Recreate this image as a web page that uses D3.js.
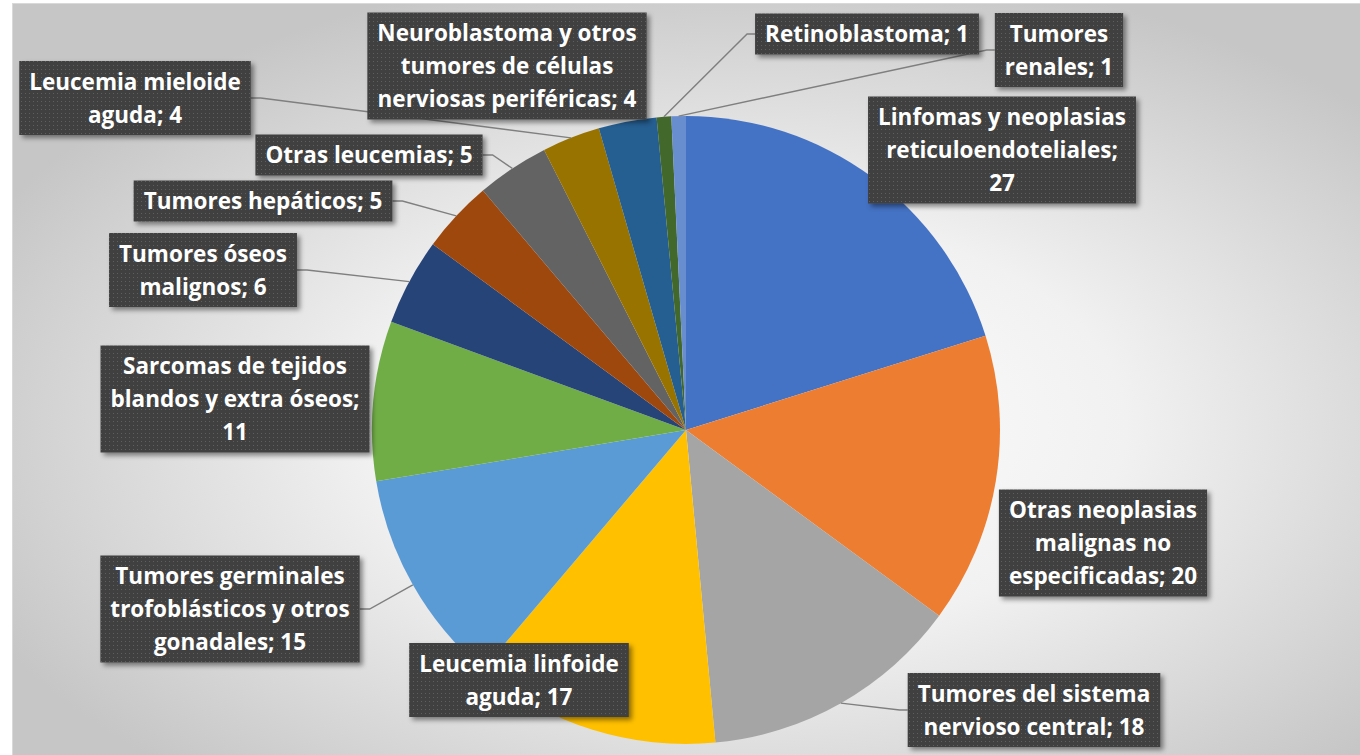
<!DOCTYPE html>
<html>
<head>
<meta charset="utf-8">
<script src="https://cdn.jsdelivr.net/npm/d3@7"></script>
<style>
  html,body{margin:0;padding:0;background:#fff;}
  svg{display:block;}
  .lbl{font-family:"Open Sans",Lato,sans-serif;font-weight:bold;fill:#fff;}
</style>
</head>
<body>
<div id="chart"></div>
<script>
// categories in slice order (clockwise from 12 o'clock)
var categories=[
  "Linfomas y neoplasias reticuloendoteliales",
  "Otras neoplasias malignas no especificadas",
  "Tumores del sistema nervioso central",
  "Leucemia linfoide aguda",
  "Tumores germinales trofoblásticos y otros gonadales",
  "Sarcomas de tejidos blandos y extra óseos",
  "Tumores óseos malignos",
  "Tumores hepáticos",
  "Otras leucemias",
  "Leucemia mieloide aguda",
  "Neuroblastoma y otros tumores de células nerviosas periféricas",
  "Retinoblastoma",
  "Tumores renales"
];
var values=[27,20,18,17,15,11,6,5,5,4,4,1,1];
var colors=["#4472C4","#ED7D31","#A5A5A5","#FFC000","#5B9BD5","#70AD47",
            "#264478","#9E480E","#636363","#997300","#255E91","#43682B","#698ED0"];

// label layout: box centre, words per line, leader shown
var labelPos=[[1002,150],[1103,543],[1034,710],[519,680],[230,609],[235,399],
              [203,270],[263,201],[369,155],[135,98],[507,66],[867,34],[1059,50]];
var lineWords=[[3,1,1],[2,2,2],[3,3],[2,2],[2,3,2],[3,4,1],[2,2],[3],[3],[2,2],[3,3,3],[2],[1,2]];
var showLeader=[false,false,true,false,true,false,true,true,true,true,false,true,true];

var W=1360,H=755, cx=686, cy=430, R=314;
var FS=22.5, LH=33, PADX=10, PADY=4;

var svg=d3.select("#chart").append("svg").attr("width",W).attr("height",H);
var defs=svg.append("defs");

var bg=defs.append("radialGradient").attr("id","bg").attr("cx","0.54").attr("cy","0.56").attr("r","0.62");
bg.append("stop").attr("offset","0").attr("stop-color","#ffffff");
bg.append("stop").attr("offset","0.45").attr("stop-color","#f1f1f1");
bg.append("stop").attr("offset","1").attr("stop-color","#c6c6c6");

var pat=defs.append("pattern").attr("id","dots").attr("width",4).attr("height",4).attr("patternUnits","userSpaceOnUse");
pat.append("rect").attr("width",4).attr("height",4).attr("fill","#404040");
pat.append("rect").attr("x",1).attr("y",1).attr("width",1).attr("height",1).attr("fill","#5e5e5e");

var sh=defs.append("filter").attr("id","shadow").attr("x","-10%").attr("y","-20%").attr("width","130%").attr("height","150%");
sh.append("feDropShadow").attr("dx",3).attr("dy",3).attr("stdDeviation",2.5).attr("flood-color","#000").attr("flood-opacity",0.45);

svg.append("rect").attr("x",12.5).attr("y",3.5).attr("width",W).attr("height",H)
  .attr("fill","url(#bg)").attr("stroke","#d9d9d9");

var data=categories.map(function(c,i){return {name:c,value:values[i],color:colors[i],i:i};});
var pie=d3.pie().sort(null).value(function(d){return d.value;});
var arcs=pie(data);
var arc=d3.arc().innerRadius(0).outerRadius(R);
var edge=d3.arc().innerRadius(R).outerRadius(R);

var g=svg.append("g").attr("transform","translate("+cx+","+cy+")");
g.selectAll("path").data(arcs).enter().append("path")
  .attr("d",arc).attr("fill",function(d){return d.data.color;});

// build label lines
function linesFor(i){
  var words=(categories[i]+"; "+values[i]).split(" "), out=[], k=0;
  lineWords[i].forEach(function(n){out.push(words.slice(k,k+n).join(" "));k+=n;});
  return out;
}

// measure widths
var meas=svg.append("text").attr("class","lbl").style("font-size",FS+"px");
var boxes=data.map(function(d,i){
  var ls=linesFor(i), w=0;
  ls.forEach(function(s){meas.text(s);w=Math.max(w,meas.node().getComputedTextLength());});
  var bw=w+2*PADX, bh=ls.length*LH+2*PADY;
  return {lines:ls,x:labelPos[i][0]-bw/2,y:labelPos[i][1]-bh/2,w:bw,h:bh,cx:labelPos[i][0],cy:labelPos[i][1]};
});
meas.remove();

// leader lines
var lg=svg.append("g");
arcs.forEach(function(a,i){
  if(!showLeader[i])return;
  var p=edge.centroid(a), tx=cx+p[0], ty=cy+p[1], b=boxes[i], sx, ex;
  if(tx>b.x+b.w){sx=b.x+b.w;ex=sx+10;} else {sx=b.x;ex=sx-8;}
  lg.append("path").attr("d","M"+sx+","+b.cy+"L"+ex+","+b.cy+"L"+tx+","+ty)
    .attr("fill","none").attr("stroke","#7f7f7f").attr("stroke-width",1.4);
});

// label boxes
var lb=svg.append("g");
boxes.forEach(function(b){
  var gg=lb.append("g");
  gg.append("rect").attr("x",b.x).attr("y",b.y).attr("width",b.w).attr("height",b.h)
    .attr("fill","url(#dots)").attr("filter","url(#shadow)");
  var t0=b.cy-(b.lines.length-1)*LH/2;
  b.lines.forEach(function(s,j){
    gg.append("text").attr("class","lbl").style("font-size",FS+"px")
      .attr("x",b.cx).attr("y",t0+j*LH).attr("dy","0.36em").attr("text-anchor","middle").text(s);
  });
});
</script>
</body>
</html>
